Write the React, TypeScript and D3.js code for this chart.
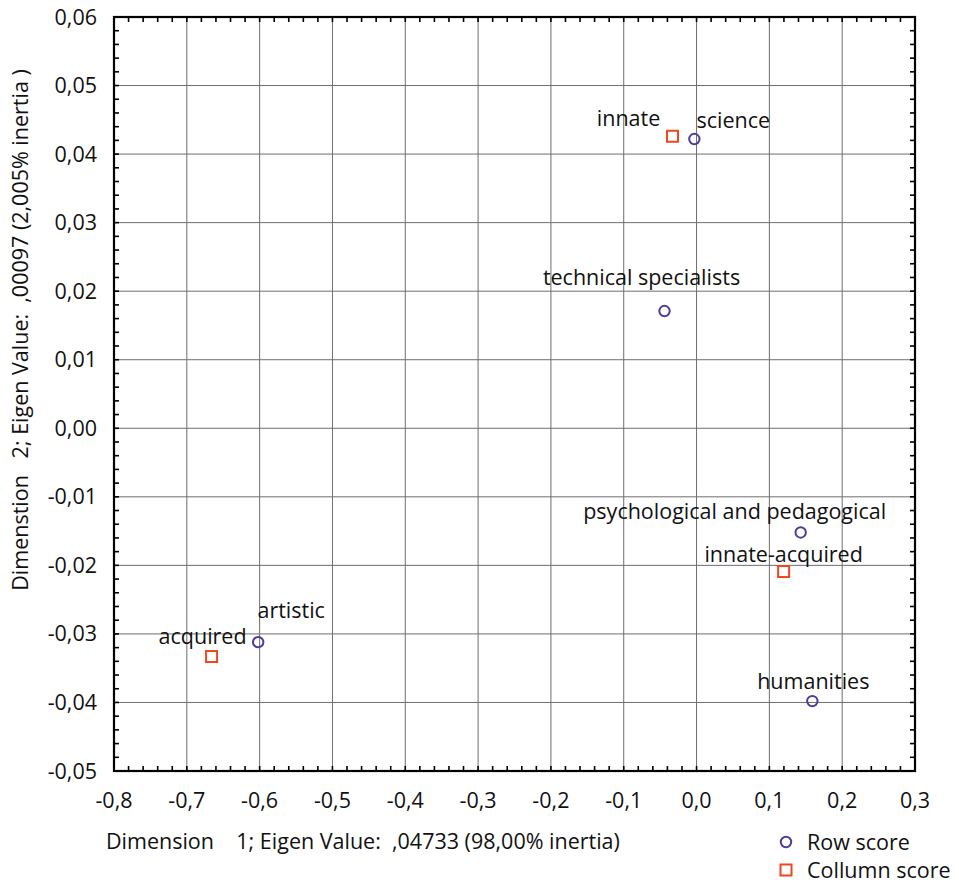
import React from 'react';
import * as d3 from 'd3';

// correspondence analysis scores
const rowNames = ['science', 'technical specialists', 'psychological and pedagogical', 'humanities', 'artistic'];
const rowDim1 = [-0.003, -0.044, 0.143, 0.159, -0.602];
const rowDim2 = [0.0422, 0.0171, -0.0152, -0.0398, -0.0312];

const colNames = ['innate', 'innate-acquired', 'acquired'];
const colDim1 = [-0.033, 0.1196, -0.666];
const colDim2 = [0.0426, -0.0209, -0.0333];

const xTicks = [-0.8, -0.7, -0.6, -0.5, -0.4, -0.3, -0.2, -0.1, 0.0, 0.1, 0.2, 0.3];
const yTicks = [0.06, 0.05, 0.04, 0.03, 0.02, 0.01, 0.0, -0.01, -0.02, -0.03, -0.04, -0.05];

// label placement relative to the marker: [center dx, baseline dy]
const labelOffsets: Record<string, [number, number]> = {
    'science': [39, -11],
    'innate': [-44, -10],
    'technical specialists': [-23, -26],
    'psychological and pedagogical': [-66, -13],
    'innate-acquired': [0, -10],
    'humanities': [1, -12],
    'artistic': [33, -24],
    'acquired': [-9, -13],
};

const W = 959;
const H = 882;
const M = { left: 114, right: 915, top: 17, bottom: 771 };
const FONT = '"Open Sans", sans-serif';
const FS = 21.5;
const ROW_COLOR = '#4b3f9e';
const COL_COLOR = '#f0471f';

const fmtX = (v: number) => d3.format('.1f')(v).replace('.', ',').replace('−', '-');
const fmtY = (v: number) => d3.format('.2f')(v).replace('.', ',').replace('−', '-');

export default function App() {
    const x = d3.scaleLinear().domain([-0.8, 0.3]).range([M.left, M.right]);
    const y = d3.scaleLinear().domain([-0.05, 0.06]).range([M.bottom, M.top]);

    // minor ticks every 0.02 on x, 0.002 on y
    const xMinor = d3.range(0, 56).map(i => -0.8 + i * 0.02);
    const yMinor = d3.range(0, 56).map(i => -0.05 + i * 0.002);
    const tick = 5;

    const rows = rowNames.map((n, i) => ({ name: n, x: rowDim1[i], y: rowDim2[i] }));
    const cols = colNames.map((n, i) => ({ name: n, x: colDim1[i], y: colDim2[i] }));

    const label = (d: { name: string, x: number, y: number }) => {
        const [dx, dy] = labelOffsets[d.name];
        return (
            <text key={'l' + d.name} x={x(d.x) + dx} y={y(d.y) + dy} textAnchor="middle"
                fontSize={FS} fill="#111">{d.name}</text>
        );
    };

    return (
        <svg width={W} height={H} style={{ position: 'absolute', left: 0, top: 0 }} fontFamily={FONT}>
            <rect x={0} y={0} width={W} height={H} fill="#fff" />
            {/* grid */}
            <g stroke="#6e6e6e" strokeWidth={1}>
                {xTicks.slice(1, -1).map((t, i) => (
                    <line key={'gx' + i} x1={x(t)} x2={x(t)} y1={M.top} y2={M.bottom} />
                ))}
                {yTicks.slice(1, -1).map((t, i) => (
                    <line key={'gy' + i} x1={M.left} x2={M.right} y1={y(t)} y2={y(t)} />
                ))}
            </g>
            {/* ticks on all four sides */}
            <g stroke="#000" strokeWidth={1.6}>
                {xMinor.map((t, i) => (
                    <g key={'tx' + i}>
                        <line x1={x(t)} x2={x(t)} y1={M.bottom} y2={M.bottom - tick} />
                        <line x1={x(t)} x2={x(t)} y1={M.top} y2={M.top + tick} />
                    </g>
                ))}
                {yMinor.map((t, i) => (
                    <g key={'ty' + i}>
                        <line x1={M.left} x2={M.left + tick} y1={y(t)} y2={y(t)} />
                        <line x1={M.right} x2={M.right - tick} y1={y(t)} y2={y(t)} />
                    </g>
                ))}
            </g>
            <rect x={M.left} y={M.top} width={M.right - M.left} height={M.bottom - M.top}
                fill="none" stroke="#000" strokeWidth={2.2} />
            {/* tick labels */}
            <g fontSize={FS} fill="#111">
                {xTicks.map((t, i) => (
                    <text key={'lx' + i} x={x(t)} y={808} textAnchor="middle">{fmtX(t)}</text>
                ))}
                {yTicks.map((t, i) => (
                    <text key={'ly' + i} x={97} y={y(t) + 7.5} textAnchor="end">{fmtY(t)}</text>
                ))}
            </g>
            {/* axis titles */}
            <text x={106} y={849} fontSize={FS} fill="#111" style={{ whiteSpace: 'pre' }}>
                {'Dimension    1; Eigen Value:  ,04733 (98,00% inertia)'}
            </text>
            <text transform="translate(28,330) rotate(-90)" textAnchor="middle" fontSize={FS} fill="#111"
                style={{ whiteSpace: 'pre' }}>
                {'Dimenstion   2; Eigen Value:  ,00097 (2,005% inertia )'}
            </text>
            {/* labels */}
            {rows.map(label)}
            {cols.map(label)}
            {/* markers */}
            {rows.map(d => (
                <circle key={'c' + d.name} cx={x(d.x)} cy={y(d.y)} r={5.2}
                    fill="none" stroke={ROW_COLOR} strokeWidth={2} />
            ))}
            {cols.map(d => (
                <rect key={'s' + d.name} x={x(d.x) - 5.5} y={y(d.y) - 5.5} width={11} height={11}
                    fill="none" stroke={COL_COLOR} strokeWidth={2} />
            ))}
            {/* legend */}
            <circle cx={786} cy={842} r={5.2} fill="none" stroke={ROW_COLOR} strokeWidth={2} />
            <text x={807} y={850} fontSize={FS} fill="#111">Row score</text>
            <rect x={780.5} y={864.5} width={11} height={11} fill="none" stroke={COL_COLOR} strokeWidth={2} />
            <text x={807} y={878} fontSize={FS} fill="#111">Collumn score</text>
        </svg>
    );
}
